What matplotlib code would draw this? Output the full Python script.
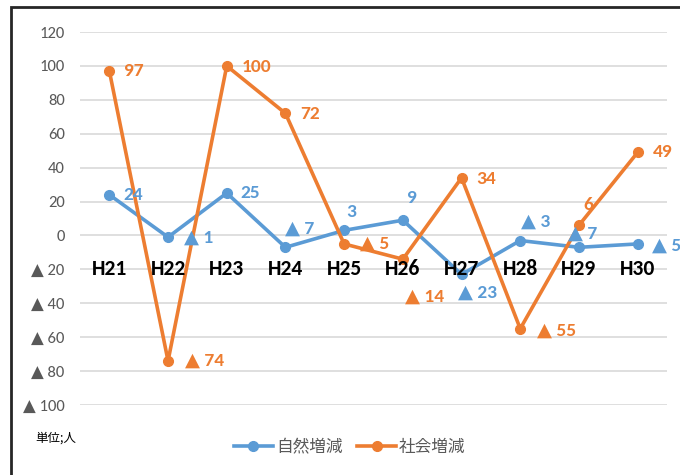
import matplotlib
matplotlib.use("Agg")
import matplotlib.pyplot as plt
from matplotlib import font_manager
from matplotlib.patches import Rectangle

categories = ["H21", "H22", "H23", "H24", "H25", "H26", "H27", "H28", "H29", "H30"]
natural = [24, -1, 25, -7, 3, 9, -23, -3, -7, -5]
social = [97, -74, 100, 72, -5, -14, 34, -55, 6, 49]
series_names = ["自然増減", "社会増減"]
yticks = [-100, -80, -60, -40, -20, 0, 20, 40, 60, 80, 100, 120]
unit_label = "単位;人"

BLUE = "#5B9BD5"
ORANGE = "#ED7D31"

names = {f.name for f in font_manager.fontManager.ttflist}
base = "Carlito" if "Carlito" in names else "Liberation Sans"
LAT = [base, "DejaVu Sans"]
CJK = ["Noto Sans CJK JP", "DejaVu Sans"]

def fmt(v):
    return ("▲ " + str(abs(v))) if v < 0 else str(v)

def lab(v):
    return ("▲ " + str(abs(v))) if v < 0 else str(v)

fig = plt.figure(figsize=(6.8, 4.75), dpi=100)
ax = fig.add_axes([80/680, 70/475, 587/680, 373/475])
x = list(range(len(categories)))

ax.set_xlim(-0.5, len(categories) - 0.5)
ax.set_ylim(-100, 120)
ax.set_yticks(yticks)
ax.set_yticklabels([fmt(v) for v in yticks], fontfamily=LAT, fontsize=12, color="#595959")
ax.tick_params(axis="y", length=0, pad=11)
ax.set_xticks([])
for s in ax.spines.values():
    s.set_visible(False)
ax.grid(axis="y", color="#D9D9D9", linewidth=1.2)
ax.set_axisbelow(True)

l1, = ax.plot(x, natural, color=BLUE, lw=2.6, marker="o", ms=7, zorder=3, label=series_names[0])
l2, = ax.plot(x, social, color=ORANGE, lw=2.6, marker="o", ms=7, zorder=3, label=series_names[1])

for xi, c in zip(x, categories):
    ax.text(xi, -20, c, ha="center", va="center", fontsize=15.5, fontweight="bold",
            fontfamily=LAT, color="black", zorder=5)

# label placements: (dx, dy, ha) in pixels
nat_pos = [(14, 0, "left"), (16, -1, "left"), (14, 0, "left"), (0, 19, "left"),
           (7, 18, "center"), (9, 22, "center"), (-4, -18, "left"), (1, 19, "left"),
           (-11, 14, "left"), (14, -2, "left")]
soc_pos = [(15, 0, "left"), (17, 0, "left"), (15, -1, "left"), (15, -1, "left"),
           (16, 0, "left"), (2, -37, "left"), (15, -1, "left"), (17, -2, "left"),
           (9, 20, "center"), (15, 0, "left")]

for vals, pos, col in [(natural, nat_pos, BLUE), (social, soc_pos, ORANGE)]:
    for xi, v, (dx, dy, ha) in zip(x, vals, pos):
        ax.annotate(lab(v), (xi, v), xytext=(dx, dy), textcoords="offset pixels",
                    ha=ha, va="center", fontsize=14, fontweight="bold", color=col,
                    fontfamily=LAT, zorder=6, annotation_clip=False)

leg = fig.legend(handles=[l1, l2], loc="center", bbox_to_anchor=(350/680, 1 - 447/475),
                 ncol=2, frameon=False, prop={"family": CJK, "size": 12},
                 handlelength=2.3, columnspacing=0.9, handletextpad=0.2)
for t in leg.get_texts():
    t.set_color("#595959")

fig.text(35/680, 1 - 438/475, unit_label, ha="left", va="center", fontsize=9,
         fontfamily=CJK, color="black")

fig.patches.append(Rectangle((11/680, -0.1), 1.2, 1.1 - 7/475, transform=fig.transFigure,
                             fill=False, edgecolor="#262626", linewidth=2, figure=fig))

fig.savefig("out.png", dpi=100)
